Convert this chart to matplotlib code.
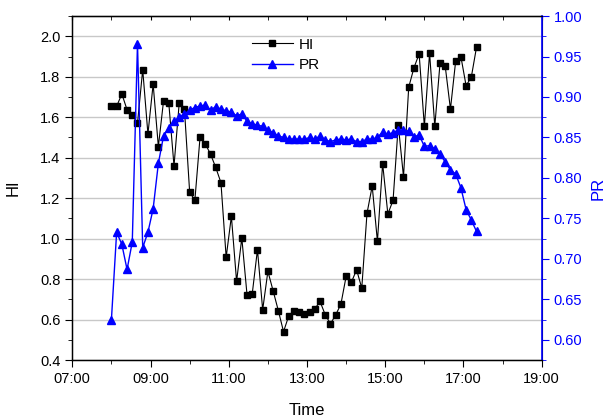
import matplotlib
matplotlib.use('Agg')
import matplotlib.pyplot as plt
from matplotlib.ticker import MultipleLocator, FixedLocator, FuncFormatter
from matplotlib.lines import Line2D

plt.rcParams['font.family'] = ['Liberation Sans', 'DejaVu Sans']

# sampling times (every 8 minutes)
times = ['08:00', '08:08', '08:16', '08:24', '08:32', '08:40', '08:48', '08:56',
         '09:04', '09:12', '09:20', '09:28', '09:36', '09:44', '09:52', '10:00',
         '10:08', '10:16', '10:24', '10:32', '10:40', '10:48', '10:56', '11:04',
         '11:12', '11:20', '11:28', '11:36', '11:44', '11:52', '12:00', '12:08',
         '12:16', '12:24', '12:32', '12:40', '12:48', '12:56', '13:04', '13:12',
         '13:20', '13:28', '13:36', '13:44', '13:52', '14:00', '14:08', '14:16',
         '14:24', '14:32', '14:40', '14:48', '14:56', '15:04', '15:12', '15:20',
         '15:28', '15:36', '15:44', '15:52', '16:00', '16:08', '16:16', '16:24',
         '16:32', '16:40', '16:48', '16:56', '17:04', '17:12', '17:20']

hi = [1.657, 1.654, 1.715, 1.637, 1.611, 1.570, 1.835, 1.517, 1.764, 1.455,
      1.682, 1.670, 1.360, 1.670, 1.640, 1.230, 1.190, 1.504, 1.468, 1.418,
      1.352, 1.277, 0.908, 1.111, 0.789, 1.004, 0.723, 0.728, 0.946, 0.649,
      0.839, 0.743, 0.645, 0.541, 0.619, 0.645, 0.636, 0.629, 0.640, 0.654,
      0.690, 0.624, 0.580, 0.624, 0.677, 0.814, 0.784, 0.847, 0.756, 1.125,
      1.260, 0.987, 1.371, 1.122, 1.190, 1.562, 1.306, 1.748, 1.844, 1.913,
      1.555, 1.917, 1.555, 1.867, 1.852, 1.640, 1.877, 1.900, 1.756, 1.798,
      1.946]

pr = [0.625, 0.733, 0.718, 0.687, 0.721, 0.966, 0.714, 0.733, 0.762, 0.818,
      0.852, 0.862, 0.870, 0.875, 0.879, 0.884, 0.887, 0.889, 0.890, 0.884,
      0.888, 0.885, 0.883, 0.881, 0.877, 0.879, 0.870, 0.867, 0.865, 0.864,
      0.859, 0.856, 0.852, 0.850, 0.848, 0.848, 0.848, 0.848, 0.850, 0.848,
      0.852, 0.847, 0.845, 0.847, 0.848, 0.847, 0.848, 0.845, 0.845, 0.848,
      0.848, 0.850, 0.857, 0.854, 0.856, 0.859, 0.859, 0.858, 0.851, 0.853,
      0.839, 0.840, 0.836, 0.829, 0.820, 0.810, 0.805, 0.788, 0.761, 0.748,
      0.734]

hour_ticks = [7, 9, 11, 13, 15, 17, 19]

hours = [int(t[:2]) + int(t[3:]) / 60 for t in times]

fig = plt.figure(figsize=(6.05, 4.17), dpi=100)
ax = fig.add_axes([0.1195, 0.1362, 0.7759, 0.8254])
ax2 = ax.twinx()

ax.plot(hours, hi, color='black', lw=0.8, marker='s', ms=4.5, label='HI')
ax2.plot(hours, pr, color='#0000ff', lw=1.0, marker='^', ms=5.5, label='PR')

ax.set_xlim(7, 19)
ax.set_ylim(0.4, 2.1)
ax2.set_ylim(0.575, 1.0)

ax.xaxis.set_major_locator(FixedLocator(hour_ticks))
ax.xaxis.set_minor_locator(MultipleLocator(1))
ax.xaxis.set_major_formatter(FuncFormatter(lambda v, p: '%02d:00' % int(round(v))))
ax.yaxis.set_major_locator(MultipleLocator(0.2))
ax.yaxis.set_minor_locator(MultipleLocator(0.1))
ax.yaxis.set_major_formatter(FuncFormatter(lambda v, p: '%.1f' % v if v <= 2.01 else ''))
ax2.yaxis.set_major_locator(MultipleLocator(0.05))
ax2.yaxis.set_minor_locator(MultipleLocator(0.025))
ax2.yaxis.set_major_formatter(FuncFormatter(lambda v, p: '%.2f' % v if v >= 0.599 else ''))

ax.grid(axis='y', which='major', color='#c8c8c8', lw=1.0)
ax.set_axisbelow(True)

ax.tick_params(axis='x', which='both', direction='out', labelsize=10.5, top=False)
ax.tick_params(axis='x', which='major', length=5)
ax.tick_params(axis='x', which='minor', length=3)
ax.tick_params(axis='y', which='major', direction='out', length=5, labelsize=10.5)
ax.tick_params(axis='y', which='minor', direction='out', length=3)
ax2.tick_params(axis='y', which='major', direction='out', length=5, labelsize=10.5,
                colors='#0000ff')
ax2.tick_params(axis='y', which='minor', direction='out', length=3, colors='#0000ff')
ax2.spines['right'].set_color('#0000ff')
ax2.spines['right'].set_linewidth(1.2)

# inward ticks along the top edge
sec = ax.secondary_xaxis('top')
sec.xaxis.set_major_locator(FixedLocator(hour_ticks))
sec.xaxis.set_minor_locator(MultipleLocator(1))
sec.tick_params(which='both', direction='in', length=3, labeltop=False)

for s in ['left', 'bottom', 'top']:
    ax.spines[s].set_linewidth(1.0)

ax.set_xlabel('Time', fontsize=12, labelpad=12)
ax.set_ylabel('HI', fontsize=12, labelpad=14)
ax2.set_ylabel('PR', fontsize=12, color='#0000ff', labelpad=6)

handles = [Line2D([], [], color='black', lw=0.8, marker='s', ms=4.5),
           Line2D([], [], color='#0000ff', lw=1.0, marker='^', ms=5.5)]
ax2.legend(handles, ['HI', 'PR'], loc='upper left', bbox_to_anchor=(0.416, 0.91),
           bbox_transform=fig.transFigure, frameon=False, fontsize=11,
           handlelength=2.7, handletextpad=0.4, borderpad=0, borderaxespad=0,
           labelspacing=0.45)

fig.savefig('out.png', dpi=100)
